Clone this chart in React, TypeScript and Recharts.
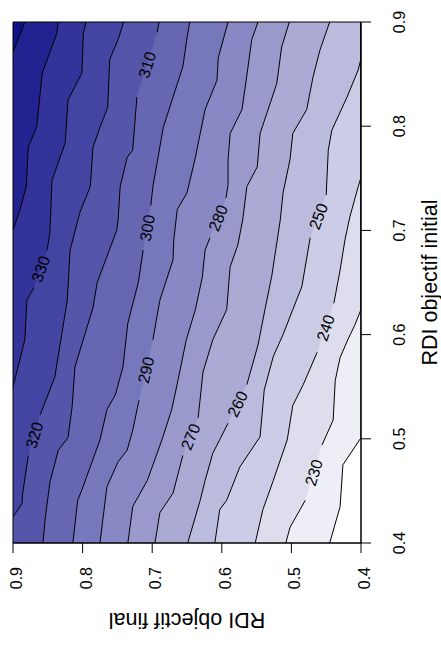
import React from 'react';
import { ComposedChart, Area, Line, Scatter, XAxis, YAxis, ReferenceArea, Label } from 'recharts';

// x = RDI objectif initial, y = RDI objectif final; the figure is shown turned a quarter turn
type Pt = [number, number] | null;

const LEVELS = [220, 230, 240, 250, 260, 270, 280, 290, 300, 310, 320, 330, 340, 350];
const TICKS = [0.4, 0.5, 0.6, 0.7, 0.8, 0.9];

// contour lines as [initial, final] points, null = where the label sits
const C220: Pt[] = [[0.9, 0.4], [0.501, 0.4], [0.475, 0.426], [0.435, 0.43], [0.4, 0.445]];
const C230: Pt[] = [[0.9, 0.4], [0.624, 0.4], [0.609, 0.409], [0.595, 0.419], [0.578, 0.43], [0.556, 0.437], [0.518, 0.44], [0.494, 0.456], null, [0.441, 0.48], [0.415, 0.502], [0.4, 0.508]];
const C240: Pt[] = [[0.9, 0.4], [0.751, 0.4], [0.742, 0.404], [0.713, 0.416], [0.691, 0.423], [0.662, 0.43], [0.63, 0.439], null, [0.583, 0.463], [0.552, 0.483], [0.532, 0.498], [0.499, 0.506], [0.46, 0.526], [0.432, 0.541], [0.4, 0.552]];
const C250: Pt[] = [[0.9, 0.4], [0.865, 0.4], [0.854, 0.404], [0.828, 0.42], [0.796, 0.442], [0.777, 0.447], [0.734, 0.45], null, [0.693, 0.473], [0.646, 0.485], [0.624, 0.498], [0.6, 0.512], [0.579, 0.526], [0.547, 0.539], [0.502, 0.545], [0.473, 0.574], [0.441, 0.593], [0.432, 0.603], [0.4, 0.61]];
const C260: Pt[] = [[0.9, 0.445], [0.873, 0.459], [0.847, 0.469], [0.816, 0.478], [0.793, 0.498], [0.768, 0.502], [0.736, 0.512], [0.71, 0.516], [0.688, 0.521], [0.657, 0.528], [0.624, 0.538], [0.59, 0.548], [0.552, 0.564], null, [0.515, 0.591], [0.486, 0.613], [0.46, 0.624], [0.441, 0.631], [0.4, 0.649]];
const C270: Pt[] = [[0.9, 0.503], [0.876, 0.514], [0.841, 0.521], [0.813, 0.535], [0.793, 0.545], [0.761, 0.549], [0.742, 0.564], [0.71, 0.57], [0.686, 0.577], [0.665, 0.588], [0.624, 0.593], [0.595, 0.613], [0.564, 0.627], [0.52, 0.634], null, [0.484, 0.656], [0.448, 0.67], [0.429, 0.689], [0.4, 0.696]];
const C280: Pt[] = [[0.9, 0.548], [0.883, 0.557], [0.844, 0.565], [0.816, 0.571], [0.793, 0.588], [0.768, 0.591], [0.744, 0.591], [0.731, 0.594], null, [0.693, 0.617], [0.681, 0.624], [0.655, 0.628], [0.624, 0.638], [0.595, 0.651], [0.556, 0.663], [0.528, 0.672], [0.499, 0.686], [0.46, 0.707], [0.435, 0.728], [0.4, 0.735]];
const C290: Pt[] = [[0.9, 0.591], [0.866, 0.605], [0.844, 0.607], [0.816, 0.624], [0.793, 0.631], [0.77, 0.638], [0.736, 0.65], [0.72, 0.664], [0.691, 0.669], [0.672, 0.67], [0.633, 0.689], [0.595, 0.699], null, [0.537, 0.719], [0.508, 0.728], [0.489, 0.736], [0.478, 0.749], [0.454, 0.765], [0.422, 0.771], [0.4, 0.775]];
const C300: Pt[] = [[0.9, 0.646], [0.889, 0.649], [0.857, 0.656], [0.799, 0.684], [0.742, 0.699], [0.724, 0.702], null, [0.681, 0.713], [0.65, 0.72], [0.611, 0.735], [0.569, 0.742], [0.542, 0.753], [0.528, 0.765], [0.499, 0.775], [0.451, 0.801], [0.441, 0.807], [0.4, 0.814]];
const C310: Pt[] = [[0.9, 0.69], [0.89, 0.693], null, [0.828, 0.722], [0.777, 0.728], [0.77, 0.736], [0.742, 0.746], [0.71, 0.749], [0.7, 0.751], [0.65, 0.779], [0.626, 0.785], [0.569, 0.811], [0.531, 0.815], [0.501, 0.821], [0.489, 0.835], [0.458, 0.847], [0.422, 0.854], [0.4, 0.857]];
const C320: Pt[] = [[0.9, 0.741], [0.883, 0.749], [0.864, 0.761], [0.818, 0.764], [0.799, 0.775], [0.78, 0.785], [0.742, 0.789], [0.717, 0.804], [0.681, 0.818], [0.633, 0.822], [0.6, 0.83], [0.559, 0.84], [0.523, 0.861], null, [0.484, 0.878], [0.448, 0.886], [0.438, 0.887], [0.425, 0.9]];
const C330: Pt[] = [[0.9, 0.795], [0.889, 0.799], [0.851, 0.801], [0.825, 0.821], [0.784, 0.825], [0.748, 0.844], [0.698, 0.847], [0.681, 0.851], null, [0.645, 0.87], [0.633, 0.88], [0.595, 0.883], [0.55, 0.9]];
const C340: Pt[] = [[0.9, 0.835], [0.889, 0.837], [0.851, 0.858], [0.799, 0.866], [0.78, 0.878], [0.742, 0.881], [0.72, 0.89], [0.7, 0.9]];
const C350: Pt[] = [[0.9, 0.883], [0.871, 0.9]];

const CONTOURS = [C220, C230, C240, C250, C260, C270, C280, C290, C300, C310, C320, C330, C340, C350];

// white -> navy, one colour per band (below 220 ... above 350)
const FILLS = [
  '#ffffff', '#eeeef7', '#ddddee', '#ccccE6', '#bbbbdd', '#aaaad5', '#9999cc', '#8888c4',
  '#7777bb', '#6666b3', '#5555aa', '#4444a2', '#333399', '#222291', '#111188',
];

const W = 651;
const H = 441;
const MARGIN = { top: 13, right: 22, bottom: 0, left: 0 };
const Y_AXIS_W = 108;
const X_AXIS_H = 80;
const PX_I = (W - Y_AXIS_W - MARGIN.right) / 0.5;
const PX_F = (H - MARGIN.top - X_AXIS_H) / 0.5;
const FONT = '"Liberation Sans", Arial, Helvetica, sans-serif';

const toRows = (pts: Pt[]) => pts.filter((p): p is [number, number] => p !== null).map((p) => ({ i: p[0], f: p[1] }));

const toLine = (pts: Pt[]) =>
  pts.map((p, k) => {
    if (p) return { i: p[0], f: p[1] };
    const a = pts[k - 1] as [number, number];
    const b = pts[k + 1] as [number, number];
    return { i: (a[0] + b[0]) / 2, f: null };
  });

// labels sit in the gap of each line, turned along it
const LABELS = CONTOURS.flatMap((pts, n) => {
  const k = pts.indexOf(null);
  if (k < 0) return [];
  const a = pts[k - 1] as [number, number];
  const b = pts[k + 1] as [number, number];
  const angle = (Math.atan2((b[1] - a[1]) * PX_F, (a[0] - b[0]) * PX_I) * 180) / Math.PI;
  return [{ i: (a[0] + b[0]) / 2, f: (a[1] + b[1]) / 2, text: String(LEVELS[n]), angle }];
});

const XTick = ({ x, y, payload }: any) => (
  <text x={x} y={y + 34} textAnchor="middle" fontSize={16} fontFamily={FONT} fill="#000">
    {Number(payload.value).toFixed(1)}
  </text>
);

const YTick = ({ x, y, payload }: any) => (
  <text x={x - 14} y={y + 9} textAnchor="end" fontSize={16} fontFamily={FONT} fill="#000">
    {Number(payload.value).toFixed(1)}
  </text>
);

const LevelLabel = ({ cx, cy, payload }: any) => (
  <text
    x={cx}
    y={cy}
    dy="0.36em"
    textAnchor="middle"
    fontSize={16}
    fontFamily={FONT}
    fill="#000"
    transform={`rotate(${payload.angle} ${cx} ${cy})`}
  >
    {payload.text}
  </text>
);

export default function App() {
  return (
    <div style={{ position: 'absolute', left: 0, top: 0, width: 441, height: 651, overflow: 'hidden', background: '#fff' }}>
      <div style={{ width: W, height: H, transformOrigin: '0 0', transform: `translateY(${W}px) rotate(-90deg)` }}>
        <ComposedChart width={W} height={H} margin={MARGIN}>
          <XAxis
            type="number"
            dataKey="i"
            domain={[0.4, 0.9]}
            ticks={TICKS}
            height={X_AXIS_H}
            tickSize={10}
            tickMargin={0}
            tick={XTick}
            tickLine={{ stroke: '#000' }}
            axisLine={{ stroke: '#000' }}
            allowDataOverflow
          >
            <Label
              content={({ viewBox }: any) => (
                <text x={viewBox.x + viewBox.width / 2} y={viewBox.y + 75.5} textAnchor="middle" fontSize={21.5} fontFamily={FONT} fill="#000">
                  RDI objectif initial
                </text>
              )}
            />
          </XAxis>
          <YAxis
            type="number"
            dataKey="f"
            domain={[0.4, 0.9]}
            ticks={TICKS}
            width={Y_AXIS_W}
            tickSize={10}
            tickMargin={0}
            tick={YTick}
            tickLine={{ stroke: '#000' }}
            axisLine={{ stroke: '#000' }}
            allowDataOverflow
          >
            <Label
              content={({ viewBox }: any) => {
                const x = viewBox.x + 38;
                const y = viewBox.y + viewBox.height / 2;
                return (
                  <text x={x} y={y} transform={`rotate(-90 ${x} ${y})`} textAnchor="middle" fontSize={21.5} fontFamily={FONT} fill="#000">
                    RDI objectif final
                  </text>
                );
              }}
            />
          </YAxis>
          {CONTOURS.map((pts, n) => (
            <Area
              key={`band-${LEVELS[n]}`}
              data={toRows(pts)}
              dataKey="f"
              type="linear"
              baseValue={0.9}
              fill={FILLS[n + 1]}
              fillOpacity={1}
              stroke="none"
              isAnimationActive={false}
            />
          ))}
          {CONTOURS.map((pts, n) => (
            <Line
              key={`line-${LEVELS[n]}`}
              data={toLine(pts)}
              dataKey="f"
              type="linear"
              stroke="#000"
              strokeWidth={1}
              dot={false}
              activeDot={false}
              isAnimationActive={false}
            />
          ))}
          <Scatter data={LABELS} shape={LevelLabel} isAnimationActive={false} />
          <ReferenceArea x1={0.4} x2={0.9} y1={0.4} y2={0.9} fill="none" stroke="#000" strokeWidth={1} />
        </ComposedChart>
      </div>
    </div>
  );
}
